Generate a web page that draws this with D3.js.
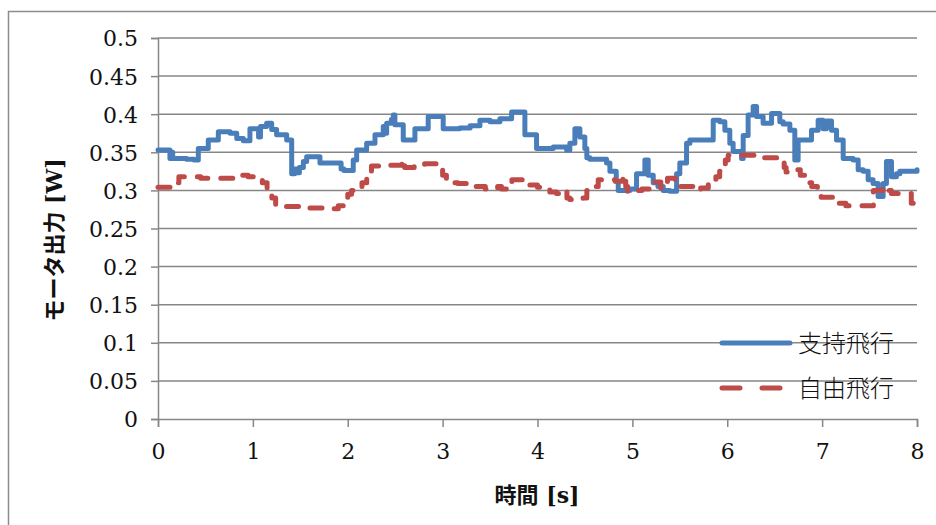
<!DOCTYPE html>
<html>
<head>
<meta charset="utf-8">
<script src="https://cdn.jsdelivr.net/npm/d3@7"></script>
<style>
  html, body { margin: 0; padding: 0; background: #fff; }
  svg { display: block; }
</style>
</head>
<body>
<svg id="chart" width="936" height="525"></svg>
<script>
// Time axis ticks [s] and power axis ticks [W]
const xTicks = [0, 1, 2, 3, 4, 5, 6, 7, 8];
const yTicks = [0, 0.05, 0.1, 0.15, 0.2, 0.25, 0.3, 0.35, 0.4, 0.45, 0.5];

const seriesNames = ["支持飛行", "自由飛行"];

// 支持飛行: sample-and-hold motor power, [time s, power W]
const supportedFlight = [
  [0.00, 0.353], [0.126, 0.342], [0.14, 0.350], [0.155, 0.342], [0.30, 0.341],
  [0.38, 0.340], [0.425, 0.355], [0.53, 0.366], [0.636, 0.377], [0.76, 0.375],
  [0.83, 0.368], [0.90, 0.365], [0.969, 0.381], [1.06, 0.370], [1.08, 0.384],
  [1.145, 0.388], [1.198, 0.380], [1.25, 0.373], [1.356, 0.366], [1.409, 0.322],
  [1.44, 0.328], [1.46, 0.323], [1.49, 0.330], [1.532, 0.338], [1.567, 0.344],
  [1.707, 0.336], [1.93, 0.328], [1.96, 0.326], [2.058, 0.340], [2.094, 0.353],
  [2.199, 0.362], [2.287, 0.373], [2.374, 0.384], [2.40, 0.375], [2.41, 0.388],
  [2.46, 0.393], [2.48, 0.399], [2.497, 0.386], [2.585, 0.366], [2.708, 0.381],
  [2.848, 0.397], [3.006, 0.381], [3.18, 0.382], [3.29, 0.385], [3.393, 0.392],
  [3.50, 0.390], [3.604, 0.394], [3.727, 0.403], [3.867, 0.373], [3.99, 0.355],
  [4.166, 0.357], [4.307, 0.353], [4.341, 0.362], [4.394, 0.381], [4.447, 0.370],
  [4.499, 0.355], [4.52, 0.343], [4.552, 0.341], [4.728, 0.336], [4.763, 0.325],
  [4.83, 0.312], [4.851, 0.300], [4.974, 0.302], [5.044, 0.322], [5.132, 0.340],
  [5.167, 0.320], [5.22, 0.310], [5.27, 0.305], [5.325, 0.300], [5.395, 0.299],
  [5.466, 0.322], [5.50, 0.336], [5.571, 0.362], [5.606, 0.366], [5.852, 0.392],
  [5.922, 0.390], [5.975, 0.379], [6.027, 0.362], [6.062, 0.351], [6.151, 0.342],
  [6.168, 0.372], [6.22, 0.399], [6.273, 0.410], [6.309, 0.397], [6.378, 0.388],
  [6.467, 0.401], [6.554, 0.390], [6.589, 0.387], [6.66, 0.379], [6.712, 0.340],
  [6.747, 0.366], [6.888, 0.379], [6.958, 0.392], [7.011, 0.381], [7.046, 0.391],
  [7.099, 0.379], [7.152, 0.366], [7.222, 0.342], [7.327, 0.340], [7.38, 0.327],
  [7.432, 0.325], [7.485, 0.314], [7.537, 0.309], [7.59, 0.292], [7.643, 0.309],
  [7.678, 0.338], [7.731, 0.318], [7.783, 0.322], [7.819, 0.325], [8.00, 0.327]
];

// 自由飛行: sample-and-hold motor power, [time s, power W]
const freeFlight = [
  [0.00, 0.304], [0.20, 0.310], [0.22, 0.318], [0.45, 0.316], [0.80, 0.320],
  [0.95, 0.318], [1.10, 0.310], [1.15, 0.300], [1.20, 0.290], [1.24, 0.279],
  [1.55, 0.277], [1.83, 0.276], [1.90, 0.280], [1.97, 0.283], [2.00, 0.295],
  [2.04, 0.300], [2.15, 0.310], [2.20, 0.315], [2.25, 0.332], [2.45, 0.333],
  [2.57, 0.340], [2.60, 0.330], [2.70, 0.332], [2.81, 0.335], [2.97, 0.330],
  [3.00, 0.320], [3.04, 0.315], [3.10, 0.310], [3.16, 0.309], [3.31, 0.305],
  [3.45, 0.302], [3.58, 0.305], [3.62, 0.302], [3.70, 0.310], [3.73, 0.314],
  [3.85, 0.310], [3.92, 0.307], [4.00, 0.304], [4.13, 0.298], [4.20, 0.296],
  [4.29, 0.300], [4.31, 0.290], [4.34, 0.288], [4.48, 0.290], [4.52, 0.300],
  [4.60, 0.305], [4.64, 0.314], [4.82, 0.312], [4.90, 0.320], [4.93, 0.305],
  [4.95, 0.298], [5.05, 0.300], [5.10, 0.302], [5.22, 0.311], [5.30, 0.303],
  [5.37, 0.316], [5.45, 0.305], [5.60, 0.305], [5.68, 0.300], [5.72, 0.303],
  [5.80, 0.313], [5.88, 0.318], [5.92, 0.325], [5.98, 0.340], [6.01, 0.346],
  [6.20, 0.346], [6.30, 0.345], [6.36, 0.343], [6.54, 0.337], [6.60, 0.330],
  [6.62, 0.324], [6.73, 0.327], [6.77, 0.320], [6.82, 0.310], [6.89, 0.305],
  [6.95, 0.295], [6.99, 0.291], [7.13, 0.283], [7.25, 0.280], [7.48, 0.280],
  [7.54, 0.300], [7.64, 0.305], [7.70, 0.300], [7.73, 0.296], [7.89, 0.296],
  [7.94, 0.283], [8.00, 0.283]
];

const colors = ["#4a7ebb", "#be4b48"];
const gridColor = "#878787";
const numFont = "'DejaVu Serif', 'Noto Sans CJK JP', serif";

const svg = d3.select("#chart");

// chart frame
svg.append("rect")
  .attr("x", 8.5).attr("y", 11.5)
  .attr("width", 1000).attr("height", 1000)
  .attr("fill", "none").attr("stroke", "#8c8c8c").attr("stroke-width", 1.5);

const plot = { left: 158, right: 917, top: 38, bottom: 419 };

const x = d3.scaleLinear().domain([0, 8]).range([plot.left, plot.right]);
const y = d3.scaleLinear().domain([0, 0.5]).range([plot.bottom, plot.top]);

// horizontal gridlines
svg.append("g")
  .selectAll("line")
  .data(yTicks.filter(d => d > 0))
  .join("line")
  .attr("x1", plot.left).attr("x2", plot.right)
  .attr("y1", d => y(d)).attr("y2", d => y(d))
  .attr("stroke", gridColor).attr("stroke-width", 1.5);

// y axis
const yAxis = svg.append("g")
  .attr("transform", `translate(${plot.left},0)`)
  .call(d3.axisLeft(y).tickValues(yTicks).tickSize(7).tickPadding(13)
    .tickFormat(d => String(+d.toFixed(2))));
yAxis.select(".domain").attr("stroke", gridColor).attr("stroke-width", 1.5);
yAxis.selectAll(".tick line").attr("stroke", gridColor).attr("stroke-width", 1.5);
yAxis.selectAll(".tick text")
  .attr("font-family", numFont).attr("font-size", 22).attr("fill", "#111")
  .attr("dy", "0.36em");

// x axis
const xAxis = svg.append("g")
  .attr("transform", `translate(0,${plot.bottom})`)
  .call(d3.axisBottom(x).tickValues(xTicks).tickSize(8).tickPadding(16)
    .tickFormat(d3.format("d")));
xAxis.select(".domain").attr("stroke", gridColor).attr("stroke-width", 1.5);
xAxis.selectAll(".tick line").attr("stroke", gridColor).attr("stroke-width", 1.5);
xAxis.selectAll(".tick text")
  .attr("font-family", numFont).attr("font-size", 22).attr("fill", "#111")
  .attr("dy", "0.71em");

// axis titles
svg.append("text")
  .attr("x", 537).attr("y", 503)
  .attr("text-anchor", "middle")
  .attr("font-family", numFont).attr("font-weight", "bold")
  .attr("font-size", 22).attr("fill", "#111")
  .text("時間 [s]");

svg.append("text")
  .attr("transform", "translate(62,240) rotate(-90)")
  .attr("text-anchor", "middle")
  .attr("font-family", numFont).attr("font-weight", "bold")
  .attr("font-size", 22).attr("fill", "#111")
  .text("モータ出力 [W]");

// series lines (held samples)
const line = d3.line()
  .x(d => x(d[0])).y(d => y(d[1]))
  .curve(d3.curveStepAfter);

svg.append("path")
  .datum(supportedFlight)
  .attr("d", line)
  .attr("fill", "none").attr("stroke", colors[0])
  .attr("stroke-width", 5).attr("stroke-linejoin", "round")
  .attr("stroke-linecap", "round");

svg.append("path")
  .datum(freeFlight)
  .attr("d", line)
  .attr("fill", "none").attr("stroke", colors[1])
  .attr("stroke-width", 5).attr("stroke-linejoin", "round")
  .attr("stroke-linecap", "round").attr("stroke-dasharray", "12,13");

// legend
const legendRows = [
  { name: seriesNames[0], color: colors[0], dash: null, yPos: 343 },
  { name: seriesNames[1], color: colors[1], dash: "18,22", yPos: 388 }
];
const legend = svg.append("g");
legendRows.forEach(r => {
  legend.append("line")
    .attr("x1", 722).attr("x2", 790)
    .attr("y1", r.yPos).attr("y2", r.yPos)
    .attr("stroke", r.color).attr("stroke-width", 5)
    .attr("stroke-linecap", "round")
    .attr("stroke-dasharray", r.dash);
  legend.append("text")
    .attr("x", 798).attr("y", r.yPos)
    .attr("dy", "0.36em")
    .attr("font-family", "'Noto Sans CJK JP', sans-serif")
    .attr("font-weight", 300)
    .attr("font-size", 24).attr("fill", "#111")
    .text(r.name);
});
</script>
</body>
</html>
